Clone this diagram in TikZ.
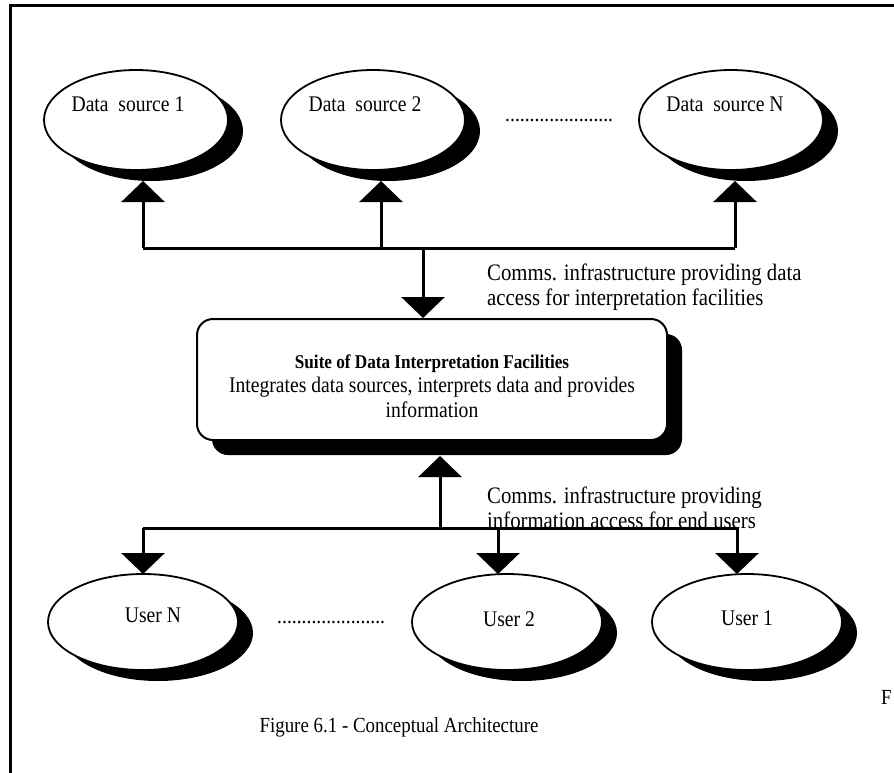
\documentclass[tikz,border=0pt]{standalone}
\usepackage{fontspec}
\setmainfont{Liberation Serif}
\newfontfamily\narrowserif[FakeStretch=0.88]{Liberation Serif}
\usetikzlibrary{shapes.geometric,arrows.meta,shadows}

\begin{document}
\begin{tikzpicture}[x=1pt,y=-1pt,
  txt/.style={font=\narrowserif\fontsize{22.3}{24.5}\selectfont, inner sep=0pt},
  commstxt/.style={font=\narrowserif\fontsize{23.6}{25}\selectfont, inner sep=0pt, anchor=west, align=left},
  oval/.style={ellipse, draw, line width=1.8pt, fill=white, inner sep=0pt,
    minimum width=184pt, minimum height=100pt,
    drop shadow={shadow xshift=15pt, shadow yshift=-11pt, fill=black, opacity=1}},
  useroval/.style={oval, minimum width=190pt, minimum height=96pt},
  suite/.style={rectangle, rounded corners=16pt, draw, line width=2pt, fill=white,
    minimum width=470pt, minimum height=121pt, inner sep=0pt,
    drop shadow={shadow xshift=15pt, shadow yshift=-15pt, fill=black, opacity=1}},
  conn/.style={line width=3pt},
  arr/.style={conn, -{Triangle[width=43pt,length=21pt]}},
]
\useasboundingbox (0,0) rectangle (894,773);

% frame
\draw[line width=3pt] (10.5,780) -- (10.5,6) -- (900,6);

% data sources
\node[oval] (ds1) at (136,120) {};
\node[oval] (ds2) at (373,120) {};
\node[oval] (dsn) at (731,120) {};
\node[txt] (ds1t) at (128,104) {Data\ \ source 1};
\node[txt] (ds2t) at (365,104) {Data\ \ source 2};
\node[txt] (dsnt) at (725,104) {Data\ \ source N};
\node[txt, anchor=west] (dotsA) at (505,120) {......................};

% central facility
\node[suite] (suite) at (432,379.5) {};
\node[txt, align=center] (suitet) at (432,386) {{\fontsize{19.5}{24.5}\selectfont\bfseries Suite of Data Interpretation Facilities}\\
  Integrates data sources, interprets data and provides\\ information};

% users
\node[useroval] (u1) at (747,622) {};
\node[useroval] (u2) at (507,622) {};
\node[useroval] (un) at (143,622) {};
\node[txt] (u1t) at (747,618) {User 1};
\node[txt] (u2t) at (509,619) {User 2};
\node[txt] (unt) at (153,615) {User N};
\node[txt, anchor=west] (dotsB) at (277,622) {......................};

% upper bus: facility to data sources
\coordinate (b1) at (143,248);
\coordinate (b2) at (381,248);
\coordinate (b3) at (735,248);
\coordinate (bc) at (423,248);
\coordinate (t1) at (143,181);
\coordinate (t2) at (381,181);
\coordinate (t3) at (735,181);
\draw[conn] (b1) -- (b3);
\draw[arr] (b1) -- (t1);
\draw[arr] (b2) -- (t2);
\draw[arr] (b3) -- (t3);
\draw[arr] (bc) -- (bc |- suite.north);
\node[commstxt] (commsA) at (487,287.5)
  {Comms. infrastructure providing data\\ access for interpretation facilities};

% lower bus: facility to users
\coordinate (l1) at (143,528);
\coordinate (l2) at (498,528);
\coordinate (l3) at (737,528);
\coordinate (lc) at (440,528);
\coordinate (s1) at (143,574);
\coordinate (s2) at (498,574);
\coordinate (s3) at (737,574);
\draw[conn] (l1) -- (l3);
\draw[arr] (lc) -- (440,456);
\draw[arr] (l1) -- (s1);
\draw[arr] (l2) -- (s2);
\draw[arr] (l3) -- (s3);
\node[commstxt] (commsB) at (487,508)
  {Comms. infrastructure providing\\ information access for end users};

% caption
\node[font=\narrowserif\fontsize{21.5}{26}\selectfont, inner sep=0pt] (cap) at (399,727) {Figure 6.1 - Conceptual Architecture};
\node[font=\narrowserif\fontsize{21.5}{26}\selectfont, inner sep=0pt, anchor=west] (fig) at (881,697) {F};
\end{tikzpicture}
\end{document}
